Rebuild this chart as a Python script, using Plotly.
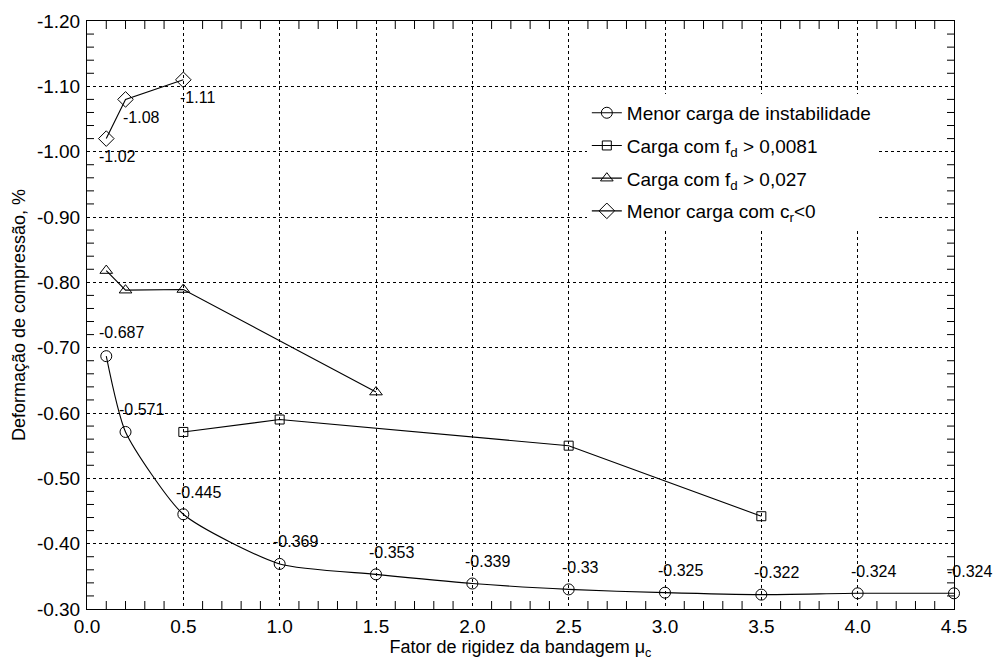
import plotly.graph_objects as go

# ---- data ----
x_inst = [0.1, 0.2, 0.5, 1.0, 1.5, 2.0, 2.5, 3.0, 3.5, 4.0, 4.5]
y_inst = [-0.687, -0.571, -0.445, -0.369, -0.353, -0.339, -0.33, -0.325, -0.322, -0.324, -0.324]

x_fd1 = [0.5, 1.0, 2.5, 3.5]
y_fd1 = [-0.571, -0.59, -0.55, -0.442]

x_fd2 = [0.1, 0.2, 0.5, 1.5]
y_fd2 = [-0.818, -0.788, -0.789, -0.632]

x_cr = [0.1, 0.2, 0.5]
y_cr = [-1.02, -1.08, -1.11]

x_ticks = [0.0, 0.5, 1.0, 1.5, 2.0, 2.5, 3.0, 3.5, 4.0, 4.5]
x_ticktext = ["0.0", "0.5", "1.0", "1.5", "2.0", "2.5", "3.0", "3.5", "4.0", "4.5"]
y_ticks = [-0.30, -0.40, -0.50, -0.60, -0.70, -0.80, -0.90, -1.00, -1.10, -1.20]
y_ticktext = ["-0.30", "-0.40", "-0.50", "-0.60", "-0.70", "-0.80", "-0.90", "-1.00", "-1.10", "-1.20"]

names = [
    "Menor carga de instabilidade",
    "Carga com f<sub>d</sub> > 0,0081",
    "Carga com f<sub>d</sub> > 0,027",
    "Menor carga com c<sub>r</sub>&lt;0",
]

FONT = "Liberation Sans, Arial, sans-serif"
X_RANGE = [0, 4.5]
Y_RANGE = [-0.30, -1.20]
X_MINOR_STEP = 0.1
Y_MINOR_STEP = 0.02
PLOT_W = 995 - 87 - 41
PLOT_H = 666 - 21 - 57

fig = go.Figure()

# ---- minor tick marks (inside, all four sides), drawn as one line trace ----
x_span = X_RANGE[1] - X_RANGE[0]
y_span = Y_RANGE[1] - Y_RANGE[0]          # negative (reversed axis)
tick_dy = 8 / PLOT_H * y_span              # 8 px inward in data units
tick_dx = 7 / PLOT_W * x_span              # 7 px inward in data units
tx, ty = [], []
n_x = int(round(x_span / X_MINOR_STEP))
for k in range(1, n_x):
    if k % 5 == 0:
        continue
    xv = X_RANGE[0] + k * X_MINOR_STEP
    tx += [xv, xv, None, xv, xv, None]
    ty += [Y_RANGE[0], Y_RANGE[0] + tick_dy, None, Y_RANGE[1], Y_RANGE[1] - tick_dy, None]
n_y = int(round(abs(y_span) / Y_MINOR_STEP))
for k in range(1, n_y):
    if k % 5 == 0:
        continue
    yv = Y_RANGE[0] - k * Y_MINOR_STEP
    tx += [X_RANGE[0], X_RANGE[0] + tick_dx, None, X_RANGE[1], X_RANGE[1] - tick_dx, None]
    ty += [yv, yv, None, yv, yv, None]
fig.add_trace(go.Scatter(x=tx, y=ty, mode="lines", line=dict(color="black", width=1),
                         showlegend=False, hoverinfo="skip", cliponaxis=False))

line = dict(color="black", width=1.1)
fig.add_trace(go.Scatter(x=x_inst, y=y_inst, mode="lines+markers", name=names[0], legendgroup="a",
                         line=dict(color="black", width=1.1, shape="spline", smoothing=0.6),
                         marker=dict(symbol="circle-open", size=11, color="black", line=dict(width=1)),
                         cliponaxis=False))
fig.add_trace(go.Scatter(x=x_fd1, y=y_fd1, mode="lines+markers", name=names[1], line=line, legendgroup="b",
                         marker=dict(symbol="square-open", size=9, color="black", line=dict(width=1))))
fig.add_trace(go.Scatter(x=x_fd2, y=y_fd2, mode="lines+markers", name=names[2], line=line, legendgroup="c",
                         marker=dict(symbol="triangle-up-open", size=11, color="black", line=dict(width=1))))
fig.add_trace(go.Scatter(x=x_cr, y=y_cr, mode="lines+markers", name=names[3], line=line, legendgroup="d",
                         marker=dict(symbol="diamond-open", size=12, color="black", line=dict(width=1))))

annotations = []
for i, (xv, yv) in enumerate(zip(x_inst, y_inst)):
    annotations.append(dict(x=xv, y=yv, text=f"{yv:g}", showarrow=False, xanchor="left",
                            yanchor="middle", xshift=-9, yshift=(24 if i == 0 else 22),
                            font=dict(family=FONT, size=16, color="black")))
for i, (xv, yv) in enumerate(zip(x_cr, y_cr)):
    annotations.append(dict(x=xv, y=yv, text=f"{yv:.2f}", showarrow=False, xanchor="left",
                            yanchor="middle", xshift=(-9 if i == 0 else -5), yshift=-18,
                            font=dict(family=FONT, size=16, color="black")))

axis_common = dict(
    showline=True, linecolor="black", linewidth=1, mirror=True,
    ticks="", showgrid=True, gridcolor="black", griddash="dot", gridwidth=1,
    zeroline=False,
    tickfont=dict(family=FONT, size=19, color="black"),
)

fig.update_layout(
    width=995, height=666,
    margin=dict(l=87, r=41, t=21, b=57),
    paper_bgcolor="white", plot_bgcolor="white",
    font=dict(family=FONT, color="black"),
    showlegend=True,
    legend=dict(x=0.5765, y=0.876, xanchor="left", yanchor="top",
                bgcolor="white", borderwidth=0,
                font=dict(family=FONT, size=19, color="black"),
                tracegroupgap=5, itemwidth=30),
    annotations=annotations,
    xaxis=dict(range=X_RANGE, tickmode="array", tickvals=x_ticks, ticktext=x_ticktext,
               title=dict(text="Fator de rigidez da bandagem μ<sub>c</sub>", standoff=2,
                          font=dict(family=FONT, size=18, color="black")),
               ticklabelstandoff=0,
               **axis_common),
    yaxis=dict(range=Y_RANGE, tickmode="array", tickvals=y_ticks, ticktext=y_ticktext,
               title=dict(text="Deformação de compressão, %", standoff=6,
                          font=dict(family=FONT, size=18, color="black")),
               ticklabelstandoff=2,
               **axis_common),
)

fig.write_html("out.html")
